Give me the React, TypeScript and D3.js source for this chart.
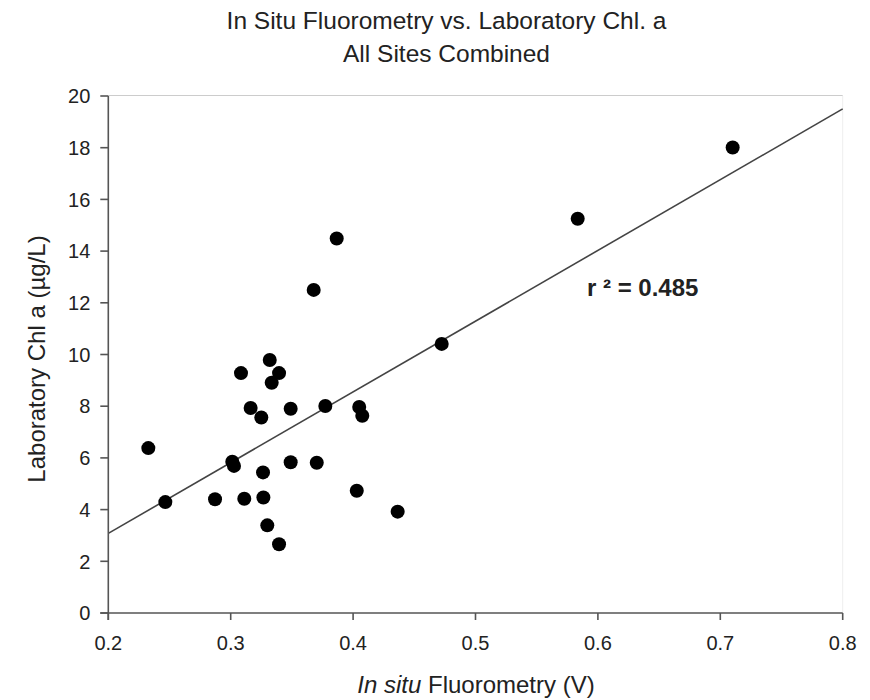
import React from "react";
import * as d3 from "d3";

const xValues = [0.2327, 0.2466, 0.2872, 0.3013, 0.3027, 0.3111, 0.3264, 0.3267, 0.3299, 0.3395, 0.349, 0.3703, 0.403,
  0.3084, 0.3319, 0.3395, 0.3335, 0.3163, 0.325, 0.349, 0.3773, 0.405, 0.4075, 0.4724, 0.4364,
  0.3678, 0.3866, 0.5835, 0.7101];
const yValues = [6.38, 4.29, 4.40, 5.85, 5.69, 4.42, 5.44, 4.47, 3.39, 2.66, 5.83, 5.81, 4.73,
  9.28, 9.79, 9.28, 8.91, 7.93, 7.56, 7.90, 8.01, 7.97, 7.63, 10.41, 3.92,
  12.50, 14.49, 15.25, 18.01];
const fitX = [0.2, 0.8];
const fitY = [3.08, 19.5];
const xTicks = [0.2, 0.3, 0.4, 0.5, 0.6, 0.7, 0.8];
const yTicks = [0, 2, 4, 6, 8, 10, 12, 14, 16, 18, 20];

const W = 870, H = 700;
const L = 108.3, R = 842.7, T = 96, B = 613;

export default function App() {
  const x = d3.scaleLinear().domain([0.2, 0.8]).range([L, R]);
  const y = d3.scaleLinear().domain([0, 20]).range([B, T]);
  const line = d3.line<number>().x((d) => x(fitX[d])).y((d) => y(fitY[d]));
  const font = "'Liberation Sans', Arial, sans-serif";
  const txt = "#222";
  return (
    <svg width={W} height={H} style={{ position: "absolute", left: 0, top: 0, background: "#fff" }} fontFamily={font}>
      <rect x={0} y={0} width={W} height={H} fill="#fff" />
      <text x={446.5} y={29} textAnchor="middle" fontSize={24.5} fill={txt}>In Situ Fluorometry vs. Laboratory Chl. a</text>
      <text x={446.5} y={62} textAnchor="middle" fontSize={24.5} fill={txt}>All Sites Combined</text>
      {/* light frame */}
      <line x1={L} x2={R} y1={T - 0.5} y2={T - 0.5} stroke="#ccc" strokeWidth={1} />
      <line x1={R} x2={R} y1={T} y2={B} stroke="#eee" strokeWidth={1} />
      {/* regression line */}
      <path d={line([0, 1]) || ""} stroke="#444" strokeWidth={1.6} fill="none" />
      {xValues.map((v, i) => (
        <circle key={i} cx={x(v)} cy={y(yValues[i])} r={7} fill="#000" />
      ))}
      {/* axes */}
      <line x1={L} x2={L} y1={T} y2={B + 7} stroke="#555" strokeWidth={1.6} />
      <line x1={L - 8} x2={R} y1={B} y2={B} stroke="#555" strokeWidth={1.6} />
      {yTicks.map((t) => (
        <g key={"y" + t}>
          <line x1={L - 8} x2={L} y1={y(t)} y2={y(t)} stroke="#555" strokeWidth={1.6} />
          <text x={L - 18} y={y(t)} dy="0.36em" textAnchor="end" fontSize={20} fill={txt}>{t}</text>
        </g>
      ))}
      {xTicks.map((t) => (
        <g key={"x" + t}>
          <line x1={x(t)} x2={x(t)} y1={B} y2={B + 7} stroke="#555" strokeWidth={1.6} />
          <text x={x(t)} y={650} textAnchor="middle" fontSize={20} fill={txt}>{t.toFixed(1)}</text>
        </g>
      ))}
      <text x={476} y={693} textAnchor="middle" fontSize={24} fill={txt}>
        <tspan fontStyle="italic">In situ</tspan> Fluorometry (V)
      </text>
      <text transform={`translate(45,359) rotate(-90)`} textAnchor="middle" fontSize={24} fill={txt}>Laboratory Chl a (µg/L)</text>
      <text x={587} y={296} fontSize={24} fontWeight="bold" fill={txt}>r ² = 0.485</text>
    </svg>
  );
}
